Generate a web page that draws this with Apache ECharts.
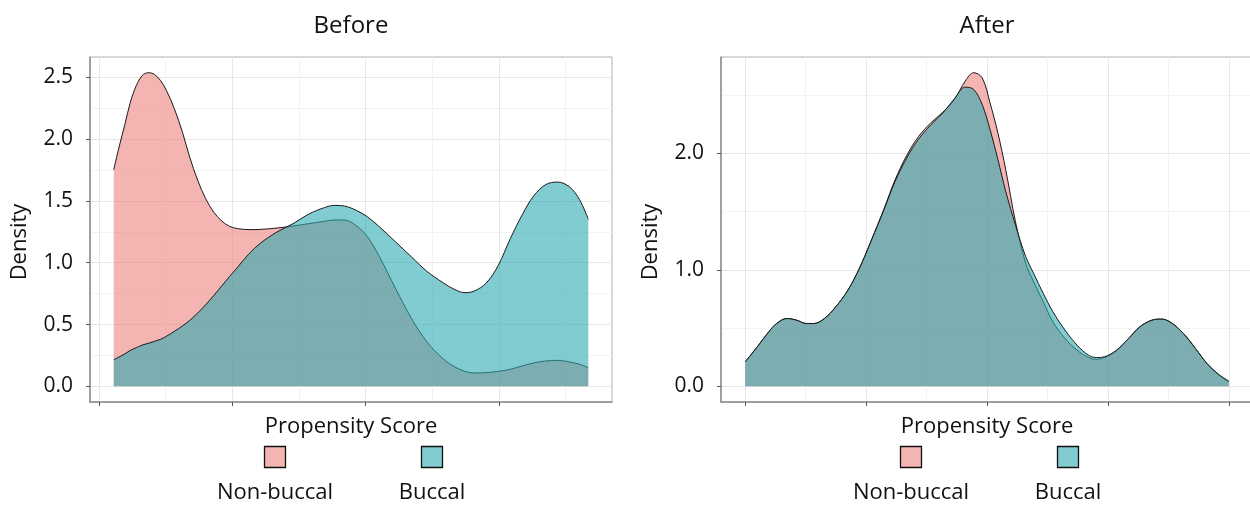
<!DOCTYPE html>
<html><head><meta charset="utf-8">
<script src="https://cdn.jsdelivr.net/npm/echarts@6/dist/echarts.min.js"></script>
<style>html,body{margin:0;padding:0;background:#fff;overflow:hidden}#c{width:1250px;height:505px}</style>
</head><body><div id="c"></div><script>
const panelTitles = ['Before', 'After'];
const groupNames = ['Non-buccal', 'Buccal'];
const xAxisTitle = 'Propensity Score';
const yAxisTitle = 'Density';

const xBefore = [0.222,0.230,0.239,0.247,0.256,0.265,0.274,0.283,0.292,0.301,0.313,0.325,0.336,0.348,0.360,0.372,0.384,0.396,0.408,0.425,0.443,0.467,0.491,0.514,0.538,0.553,0.568,0.586,0.603,0.621,0.645,0.669,0.692,0.716,0.734,0.749,0.763,0.781,0.799,0.817,0.835,0.852,0.870,0.888,0.906,0.921,0.934];
const nonBuccalBefore = [1.753,1.936,2.125,2.300,2.435,2.516,2.538,2.524,2.476,2.395,2.246,2.058,1.855,1.667,1.518,1.410,1.338,1.294,1.276,1.268,1.270,1.281,1.297,1.316,1.335,1.346,1.346,1.300,1.208,1.046,0.790,0.547,0.359,0.224,0.156,0.121,0.108,0.111,0.121,0.138,0.165,0.189,0.205,0.210,0.197,0.178,0.151];
const buccalBefore = [0.216,0.237,0.264,0.291,0.313,0.334,0.348,0.364,0.380,0.405,0.445,0.488,0.534,0.593,0.661,0.734,0.812,0.890,0.965,1.073,1.162,1.249,1.316,1.392,1.446,1.464,1.459,1.424,1.370,1.289,1.168,1.046,0.930,0.839,0.782,0.758,0.771,0.836,0.979,1.195,1.389,1.540,1.632,1.653,1.613,1.510,1.351];

const xAfter = [0.200,0.220,0.239,0.252,0.269,0.285,0.301,0.314,0.331,0.350,0.370,0.389,0.409,0.429,0.448,0.468,0.487,0.507,0.527,0.546,0.564,0.578,0.592,0.605,0.618,0.631,0.647,0.664,0.677,0.693,0.709,0.729,0.749,0.768,0.781,0.794,0.814,0.834,0.853,0.873,0.889,0.905,0.925,0.945,0.964,0.984,1.000];
const nonBuccalAfter = [0.209,0.339,0.468,0.539,0.582,0.568,0.539,0.539,0.582,0.683,0.826,1.013,1.257,1.515,1.773,1.989,2.146,2.261,2.353,2.462,2.620,2.692,2.648,2.433,2.175,1.859,1.415,1.056,0.898,0.726,0.554,0.410,0.310,0.247,0.232,0.247,0.304,0.410,0.511,0.568,0.577,0.545,0.453,0.324,0.195,0.095,0.037];
const buccalAfter = [0.209,0.339,0.468,0.539,0.582,0.568,0.539,0.539,0.582,0.683,0.826,1.013,1.257,1.509,1.759,1.968,2.123,2.244,2.347,2.468,2.568,2.548,2.419,2.204,1.946,1.673,1.386,1.113,0.970,0.798,0.640,0.482,0.353,0.267,0.247,0.253,0.310,0.410,0.511,0.568,0.577,0.545,0.453,0.324,0.195,0.100,0.046];

const xTicksBefore = [0.2, 0.4, 0.6, 0.8];
const xMinorBefore = [0.3, 0.5, 0.7, 0.9];
const yTicksBefore = [0, 0.5, 1.0, 1.5, 2.0, 2.5];
const yMinorBefore = [0.25, 0.75, 1.25, 1.75, 2.25];
const xTicksAfter = [0.2, 0.4, 0.6, 0.8, 1.0];
const xMinorAfter = [0.3, 0.5, 0.7, 0.9];
const yTicksAfter = [0, 1.0, 2.0];
const yMinorAfter = [0.5, 1.5, 2.5];

const FONT = "'Open Sans', 'DejaVu Sans', sans-serif";
const PINK = 'rgba(237,130,125,0.6)';
const TEAL = 'rgba(43,170,177,0.6)';
const LINE = '#1a1a1a';

function expand(lo, hi) { const r = hi - lo; return [lo - 0.05 * r, hi + 0.05 * r]; }

const grids = [
  { left: 90, top: 57, width: 522, height: 345 },
  { left: 721, top: 57, width: 532, height: 345 }
];

const panels = [
  { x: xBefore, a: nonBuccalBefore, b: buccalBefore, xt: xTicksBefore, xm: xMinorBefore, yt: yTicksBefore, ym: yMinorBefore },
  { x: xAfter, a: nonBuccalAfter, b: buccalAfter, xt: xTicksAfter, xm: xMinorAfter, yt: yTicksAfter, ym: yMinorAfter }
];

const xAxes = [], yAxes = [], series = [], graphics = [];
panels.forEach((p, g) => {
  const xr = expand(Math.min(...p.x), Math.max(...p.x));
  const yr = expand(0, Math.max(...p.a, ...p.b));
  xAxes.push({
    type: 'value', gridIndex: g, min: xr[0], max: xr[1], position: 'bottom',
    axisLine: { show: true, onZero: false, lineStyle: { color: '#8c8c8c', width: 1.5 } },
    axisTick: { show: true, customValues: p.xt, length: 4, lineStyle: { color: '#555', width: 1 } },
    axisLabel: { show: false, customValues: p.xt },
    splitLine: { show: true, lineStyle: { color: '#e6e6e6', width: 1 } }
  });
  xAxes.push({
    type: 'value', gridIndex: g, min: xr[0], max: xr[1], position: 'bottom',
    axisLine: { show: false }, axisTick: { show: false, customValues: p.xm },
    axisLabel: { show: false, customValues: p.xm },
    splitLine: { show: true, lineStyle: { color: '#f3f3f3', width: 1 } }
  });
  yAxes.push({
    type: 'value', gridIndex: g, min: yr[0], max: yr[1], position: 'left',
    axisLine: { show: true, onZero: false, lineStyle: { color: '#8c8c8c', width: 1.5 } },
    axisTick: { show: true, customValues: p.yt, length: 4, lineStyle: { color: '#555', width: 1 } },
    axisLabel: { show: true, customValues: p.yt, formatter: v => Number(v).toFixed(1), fontSize: 21, fontFamily: FONT, color: '#111', margin: 17 },
    splitLine: { show: true, lineStyle: { color: '#e6e6e6', width: 1 } }
  });
  yAxes.push({
    type: 'value', gridIndex: g, min: yr[0], max: yr[1], position: 'left',
    axisLine: { show: false }, axisTick: { show: false, customValues: p.ym },
    axisLabel: { show: false, customValues: p.ym },
    splitLine: { show: true, lineStyle: { color: '#f3f3f3', width: 1 } }
  });
  const xi = g * 2, yi = g * 2;
  series.push({
    name: groupNames[0], type: 'line', xAxisIndex: xi, yAxisIndex: yi,
    data: p.x.map((v, i) => [v, p.a[i]]), smooth: 0.35, symbol: 'none',
    lineStyle: { color: LINE, width: 1 }, areaStyle: { color: PINK, opacity: 1 }, z: 3, silent: true
  });
  series.push({
    name: groupNames[1], type: 'line', xAxisIndex: xi, yAxisIndex: yi,
    data: p.x.map((v, i) => [v, p.b[i]]), smooth: 0.35, symbol: 'none',
    lineStyle: { color: LINE, width: 1 }, areaStyle: { color: TEAL, opacity: 1 }, z: 4, silent: true
  });

  const gr = grids[g];
  const cx = gr.left + gr.width / 2;
  const midY = 242;
  function txt(x, y, s, size, rot) {
    return {
      type: 'text', x: x, y: y, rotation: rot || 0, silent: true,
      style: { x: 0, y: 0, text: s, font: size + 'px ' + FONT, fill: '#111',
        align: 'center', verticalAlign: 'middle', textAlign: 'center', textVerticalAlign: 'middle' }
    };
  }
  graphics.push(txt(cx, 26, panelTitles[g], 24));
  graphics.push(txt(gr.left - 70, midY, yAxisTitle, 22, Math.PI / 2));
  graphics.push(txt(cx, 427, xAxisTitle, 22));
  [[-76, PINK], [81, TEAL]].forEach((d, k) => {
    graphics.push({
      type: 'rect', silent: true,
      shape: { x: cx + d[0] - 10.5, y: 446.5, width: 21, height: 21 },
      style: { fill: d[1], stroke: '#111', lineWidth: 1.3 }
    });
    graphics.push(txt(cx + d[0], 493, groupNames[k], 22));
  });
});

const chart = echarts.init(document.getElementById('c'), null, { renderer: 'canvas' });
chart.setOption({
  animation: false,
  backgroundColor: '#ffffff',
  grid: grids.map(g => Object.assign({ show: true, borderColor: '#b0b0b0', borderWidth: 1, backgroundColor: 'transparent', containLabel: false, outerBoundsMode: 'none' }, g)),
  xAxis: xAxes,
  yAxis: yAxes,
  series: series,
  graphic: { elements: graphics }
});
</script></body></html>
